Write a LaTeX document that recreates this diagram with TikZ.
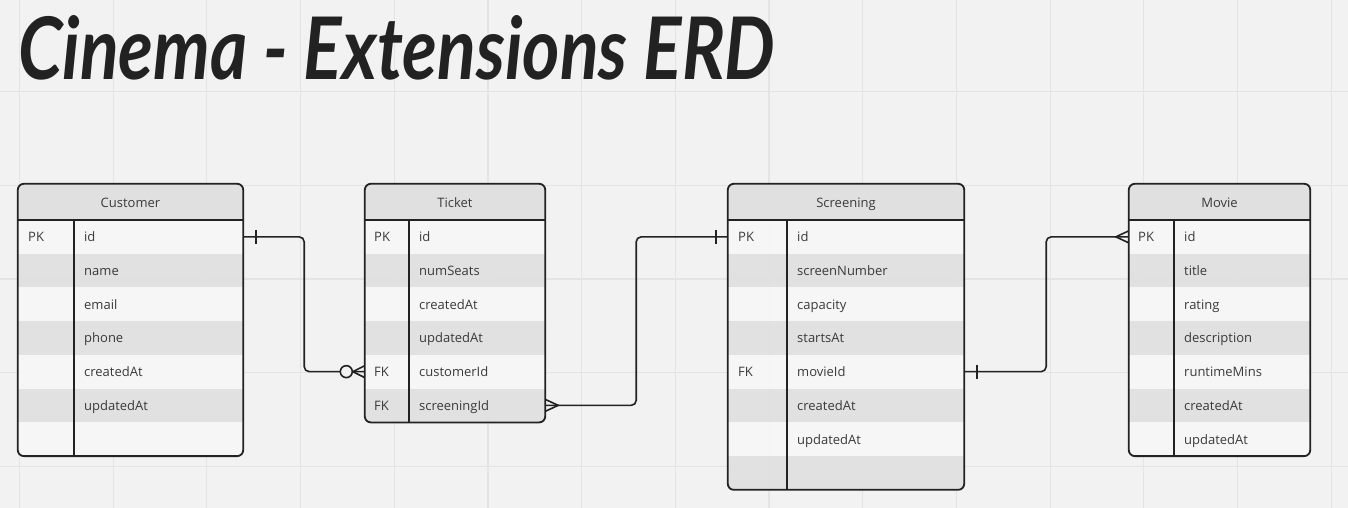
\documentclass[tikz,border=0pt]{standalone}
\usepackage{fontspec}
\setmainfont{Open Sans}
\newfontfamily\titlefont{Lato}
\definecolor{canvas}{HTML}{F2F2F2}
\definecolor{gridc}{HTML}{E4E4E4}
\definecolor{rowlight}{HTML}{F7F7F7}
\definecolor{rowdark}{HTML}{E0E0E0}
\definecolor{ink}{HTML}{222222}
\definecolor{txt}{HTML}{3A3A3A}
\begin{document}
\begin{tikzpicture}[x=1pt,y=-1pt,
                    border/.style={line width=1.8pt,draw=ink},
                    conn/.style={line width=1.6pt,draw=ink,rounded corners=5pt},
                    tip/.style={line width=1.6pt,draw=ink},
                    head/.style={rectangle,inner sep=0pt,minimum height=36pt,fill=rowdark,text=txt,
                                 text height=10pt,text depth=0pt},
                    row/.style={rectangle,inner sep=0pt,minimum height=33.7pt,fill=#1,fill opacity=.9},
                    key/.style={anchor=west,inner sep=0pt,text=txt,text height=10pt,text depth=0pt},
                    onebar/.pic={\draw[tip] (0,-7) -- (0,7);},
                    crowfoot/.pic={\draw[tip] (0,-6) -- (-13,0) -- (0,6);},
                    zerofoot/.pic={\draw[tip] (0,-6) -- (-12,0) -- (0,6);
                                   \draw[tip,fill=canvas] (-18.5,0) circle[radius=6pt];},
                    every node/.style={font=\fontsize{13}{15}\selectfont}]
 \fill[canvas] (0,0) rectangle (1348,508);
 \useasboundingbox (0,0) rectangle (1348,508);
 \foreach \gx in {0,...,14} \draw[gridc,line width=1.2pt] (19.4+93.7*\gx,0) -- (19.4+93.7*\gx,508);
 \foreach \gy in {1,...,5} \draw[gridc,line width=1.2pt] (0,-2.2+93.7*\gy) -- (1348,-2.2+93.7*\gy);
 \node[anchor=base west,inner sep=0pt,text=ink] (title) at (18,80)
   {\resizebox{757pt}{64pt}{\titlefont\bfseries\itshape Cinema - Extensions ERD}};
 % Customer
 \begin{scope}
  \clip[rounded corners=6pt] (18,184) rectangle (243,456);
  \node[head,minimum width=225pt] (cust) at (130.5,202) {Customer};
  \foreach \i/\k/\f/\c in {1/PK/id/rowlight,2//name/rowdark,3//email/rowlight,4//phone/rowdark,
                           5//createdAt/rowlight,6//updatedAt/rowdark,7///rowlight}{
    \pgfmathsetmacro\yy{203.15+33.7*\i}
    \node[row=\c,minimum width=225pt] (cust-\i) at (130.5,\yy) {};
    \node[key] (cust-\i-k) at (28,\yy) {\k};
    \node[key] (cust-\i-f) at (84,\yy) {\f};
  }
 \end{scope}
 \draw[border,rounded corners=6pt] (cust.north west) rectangle (cust-7.south east);
 \draw[border] (cust.south west) -- (cust.south east) (74,220) -- (74,456);
 % Ticket
 \begin{scope}
  \clip[rounded corners=6pt] (365,184) rectangle (545,422);
  \node[head,minimum width=180pt] (tick) at (455,202) {Ticket};
  \foreach \i/\k/\f/\c in {1/PK/id/rowlight,2//numSeats/rowdark,3//createdAt/rowlight,4//updatedAt/rowdark,
                           5/FK/customerId/rowlight,6/FK/screeningId/rowdark}{
    \pgfmathsetmacro\yy{203.15+33.7*\i}
    \node[row=\c,minimum width=180pt] (tick-\i) at (455,\yy) {};
    \node[key] (tick-\i-k) at (374,\yy) {\k};
    \node[key] (tick-\i-f) at (419,\yy) {\f};
  }
 \end{scope}
 \draw[border,rounded corners=6pt] (tick.north west) rectangle (tick-6.south east);
 \draw[border] (tick.south west) -- (tick.south east) (409,220) -- (409,422);
 % Screening
 \begin{scope}
  \clip[rounded corners=6pt] (728,184) rectangle (964,489.6);
  \node[head,minimum width=236pt] (scr) at (846,202) {Screening};
  \foreach \i/\k/\f/\c in {1/PK/id/rowlight,2//screenNumber/rowdark,3//capacity/rowlight,4//startsAt/rowdark,
                           5/FK/movieId/rowlight,6//createdAt/rowdark,7//updatedAt/rowlight,8///rowdark}{
    \pgfmathsetmacro\yy{203.15+33.7*\i}
    \node[row=\c,minimum width=236pt] (scr-\i) at (846,\yy) {};
    \node[key] (scr-\i-k) at (738,\yy) {\k};
    \node[key] (scr-\i-f) at (797,\yy) {\f};
  }
 \end{scope}
 \draw[border,rounded corners=6pt] (scr.north west) rectangle (scr-8.south east);
 \draw[border] (scr.south west) -- (scr.south east) (787,220) -- (787,489.6);
 % Movie
 \begin{scope}
  \clip[rounded corners=6pt] (1129,184) rectangle (1310,456);
  \node[head,minimum width=181pt] (mov) at (1219.5,202) {Movie};
  \foreach \i/\k/\f/\c in {1/PK/id/rowlight,2//title/rowdark,3//rating/rowlight,4//description/rowdark,
                           5//runtimeMins/rowlight,6//createdAt/rowdark,7//updatedAt/rowlight}{
    \pgfmathsetmacro\yy{203.15+33.7*\i}
    \node[row=\c,minimum width=181pt] (mov-\i) at (1219.5,\yy) {};
    \node[key] (mov-\i-k) at (1138,\yy) {\k};
    \node[key] (mov-\i-f) at (1184,\yy) {\f};
  }
 \end{scope}
 \draw[border,rounded corners=6pt] (mov.north west) rectangle (mov-7.south east);
 \draw[border] (mov.south west) -- (mov.south east) (1174,220) -- (1174,456);
 % relations
 \draw[conn] (cust-1.east) -- ++(61,0) |- (tick-5.west);
 \draw[conn] (tick-6.east) -- ++(91,0) |- (scr-1.west);
 \draw[conn] (scr-5.east) -- ++(82,0) |- (mov-1.west);
 \pic at ([xshift=13pt]cust-1.east) {onebar};
 \pic at (tick-5.west) {zerofoot};
 \pic[rotate=180] at (tick-6.east) {crowfoot};
 \pic at ([xshift=-12pt]scr-1.west) {onebar};
 \pic at ([xshift=13pt]scr-5.east) {onebar};
 \pic at (mov-1.west) {crowfoot};
\end{tikzpicture}
\end{document}
